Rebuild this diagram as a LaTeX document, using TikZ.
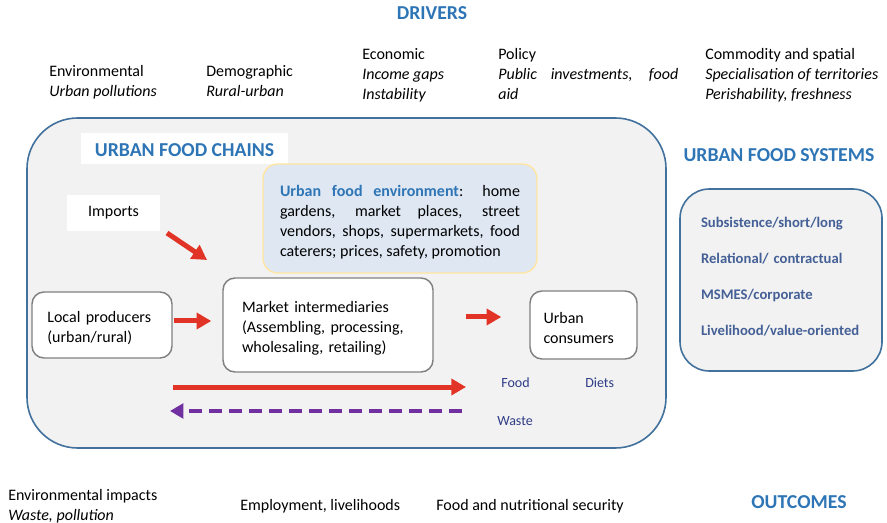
\documentclass[tikz,border=0pt]{standalone}
\usepackage{fontspec}
\setmainfont{Carlito}
\usetikzlibrary{arrows.meta}
\definecolor{hdrblue}{RGB}{46,117,182}
\definecolor{frameblue}{RGB}{65,113,156}
\definecolor{boxgray}{RGB}{242,242,242}
\definecolor{envblue}{RGB}{222,231,242}
\definecolor{envborder}{RGB}{255,230,160}
\definecolor{arrred}{RGB}{226,52,38}
\definecolor{wastepurple}{RGB}{112,48,160}
\definecolor{flowlabelcol}{RGB}{47,60,135}
\definecolor{sysblue}{RGB}{68,96,150}
\definecolor{boxborder}{RGB}{128,128,128}
\begin{document}
\begin{tikzpicture}[x=0.75pt,y=-0.75pt,
  plain/.style={font=\fontsize{12}{15}\selectfont, inner sep=0pt, align=left},
  hdr/.style={font=\fontsize{14.8}{17}\selectfont\bfseries, text=hdrblue, inner sep=0pt},
  chainbox/.style={draw=boxborder, line width=1.1pt, fill=white, rounded corners=9pt,
    font=\fontsize{12}{15}\selectfont, align=left, inner ysep=0pt,
    execute at begin node={\rule{0pt}{13pt}}},
  bigframe/.style={draw=frameblue, line width=1.2pt, fill=boxgray},
  flow/.style={draw=arrred, line width=3.75pt, -{Triangle[length=11pt,width=12pt]}},
  wasteflow/.style={draw=wastepurple, line width=3pt, dash pattern=on 10pt off 5pt,
    -{Triangle[length=10pt,width=11pt]}},
  flowlabel/.style={font=\fontsize{10.5}{12}\selectfont, text=flowlabelcol, inner sep=0pt},
]
\useasboundingbox (0,0) rectangle (887,523);

% ---------- DRIVERS ----------
\node[hdr, anchor=base] (drivers) at (432,20) {DRIVERS};
\node[plain, anchor=base west] (denv) at (49,97) {Environmental\\\textit{Urban pollutions}};
\node[plain, anchor=base west] (ddem) at (206,97) {Demographic\\\textit{Rural-urban}};
\node[plain, anchor=base west] (deco) at (362,100) {Economic\\\textit{Income gaps}\\\textit{Instability}};
\node[plain, anchor=base west, text width=135pt, align=justify] (dpol) at (498,60)
  {Policy\newline\textit{Public investments, food\linebreak aid}};
\node[plain, anchor=base west] (dcom) at (705,100)
  {Commodity and spatial\\\textit{Specialisation of territories}\\\textit{Perishability, freshness}};

% ---------- URBAN FOOD CHAINS frame ----------
\draw[bigframe, rounded corners=38pt] (27,118) rectangle (666,448);
\node[fill=white, minimum width=155pt, minimum height=23.5pt, inner sep=0pt,
  font=\fontsize{14.8}{17}\selectfont\bfseries, text=hdrblue] (ufc) at (184.5,148.5) {\rule{0pt}{12pt}URBAN FOOD CHAINS};

\node[fill=envblue, draw=envborder, line width=1pt, rounded corners=11pt,
  minimum width=205.5pt, minimum height=81.75pt, text width=180pt, inner xsep=12.75pt,
  inner ysep=0pt, align=justify, font=\fontsize{12}{15}\selectfont] (env) at (400,218.5)
  {\rule{0pt}{14.5pt}\textcolor{hdrblue}{\bfseries Urban food environment}: home\linebreak
   gardens, market places, street\linebreak
   vendors, shops, supermarkets, food\linebreak
   caterers; prices, safety, promotion};

\node[fill=white, minimum width=70pt, minimum height=27pt, inner sep=0pt,
  font=\fontsize{12}{15}\selectfont] (imports) at (113.5,213) {Imports};

\node[chainbox, minimum width=105pt, minimum height=49.5pt, text width=82pt, inner xsep=11.5pt]
  (local) at (102,325) {Local producers\\(urban/rural)};
\node[chainbox, minimum width=157.5pt, minimum height=70.5pt, text width=129pt, inner xsep=14.25pt]
  (market) at (328,325) {Market intermediaries\\(Assembling, processing,\\wholesaling, retailing)};
\node[chainbox, minimum width=80.25pt, minimum height=51pt, text width=60pt, inner xsep=10.1pt]
  (consumers) at (583.5,325) {Urban\\consumers};

% arrows
\coordinate (impA) at (167,233);
\coordinate (impB) at (207,260);
\draw[flow] (impA) -- (impB);
\draw[flow, shorten <=0.75pt, shorten >=8.25pt] ([yshift=3pt]local.east) -- ([yshift=3pt]local.east -| market.west);
\draw[flow, shorten <=24pt, shorten >=21pt] ([yshift=6pt]market.east) -- ([yshift=6pt]market.east -| consumers.west);

\coordinate (foodA) at (173,387);
\coordinate (foodB) at (466,387);
\draw[flow] (foodA) -- (foodB);
\coordinate (wasteA) at (462,411);
\coordinate (wasteB) at (170,411);
\draw[wasteflow] (wasteA) -- (wasteB);

\node[flowlabel, anchor=base west] (food) at (501,387) {Food};
\node[flowlabel, anchor=base west] (diets) at (585,387) {Diets};
\node[flowlabel, anchor=base west] (waste) at (497,425) {Waste};

% ---------- URBAN FOOD SYSTEMS ----------
\node[hdr, anchor=base] (ufs) at (779,162) {URBAN FOOD SYSTEMS};
\node[bigframe, rounded corners=22pt, minimum width=151.5pt, minimum height=136.5pt,
  text width=120pt, inner xsep=15.75pt, inner ysep=0pt, align=left,
  font=\fontsize{11}{27}\selectfont\bfseries, text=sysblue] (sys) at (781,280)
  {Subsistence/short/long\\Relational/ contractual\\MSMES/corporate\\Livelihood/value-oriented\rule[-5.5pt]{0pt}{0pt}};

% ---------- OUTCOMES ----------
\node[plain, anchor=base west] (oenv) at (8,520) {Environmental impacts\\\textit{Waste, pollution}};
\node[plain, anchor=base west] (oemp) at (240,510) {Employment, livelihoods};
\node[plain, anchor=base west] (ofood) at (436,510) {Food and nutritional security};
\node[hdr, anchor=base] (outcomes) at (799,508) {OUTCOMES};
\end{tikzpicture}
\end{document}
